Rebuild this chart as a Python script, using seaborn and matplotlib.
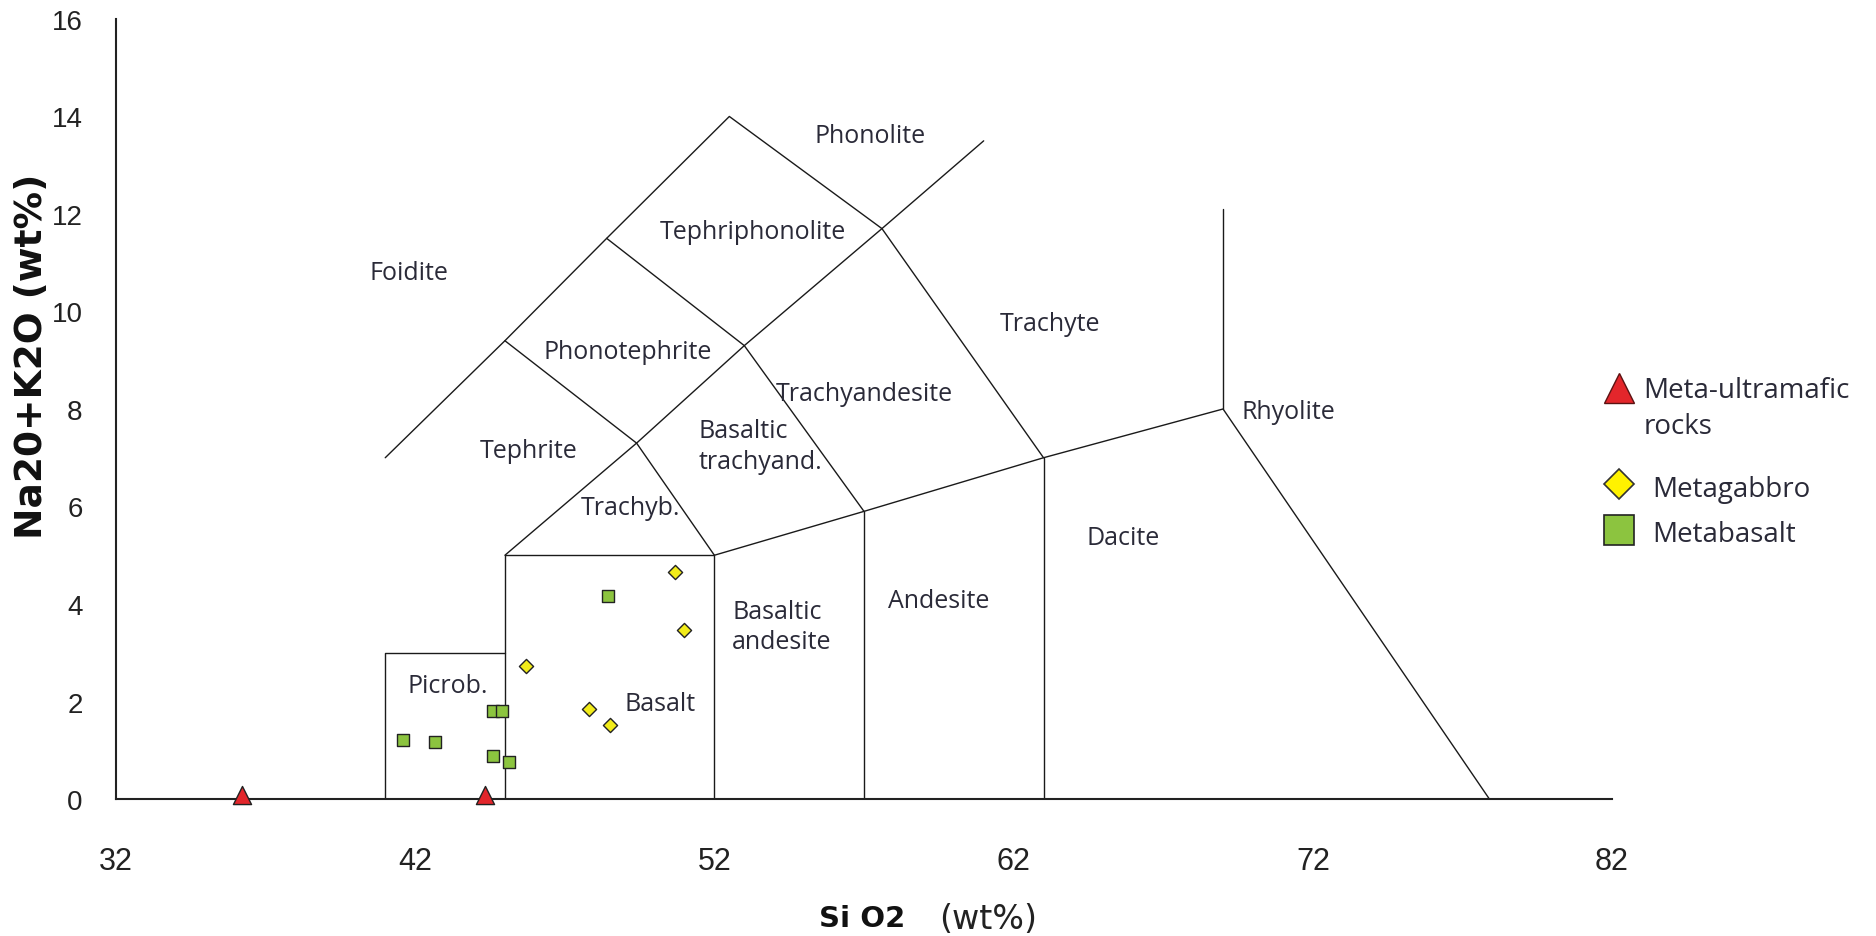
import matplotlib
matplotlib.use("Agg")
import matplotlib.pyplot as plt
from matplotlib.lines import Line2D
import pandas as pd
import seaborn as sns

# ==========================================================
# Data (SiO2 vs Na2O+K2O, wt%)
# ==========================================================

ULTRAMAFIC_SIO2 = [36.2, 44.35]
ULTRAMAFIC_ALK = [0.08, 0.08]

GABBRO_SIO2 = [50.7, 51.0, 45.7, 47.8, 48.5]
GABBRO_ALK = [4.66, 3.47, 2.73, 1.85, 1.52]

BASALT_SIO2 = [41.6, 42.65, 44.6, 44.9, 44.6, 45.15, 48.45]
BASALT_ALK = [1.22, 1.16, 1.81, 1.81, 0.89, 0.75, 4.17]

GROUPS = ["Meta-ultramafic\nrocks", "Metagabbro", "Metabasalt"]

# TAS field boundaries (Le Bas et al.)
TAS_LINES = [
    [(41, 0), (41, 3), (45, 3)],
    [(45, 0), (45, 5), (52, 5), (52, 0)],
    [(52, 5), (57, 5.9), (63, 7), (69, 8), (77.9, 0)],
    [(57, 0), (57, 5.9)],
    [(63, 0), (63, 7)],
    [(69, 8), (69, 12.1)],
    [(45, 5), (49.4, 7.3), (53, 9.3), (57.6, 11.7), (61, 13.5)],
    [(41, 7), (45, 9.4), (48.4, 11.5), (52.5, 14), (57.6, 11.7), (63, 7)],
    [(45, 9.4), (49.4, 7.3), (52, 5)],
    [(48.4, 11.5), (53, 9.3), (57, 5.9)],
]

FIELD_NAMES = ["Foidite", "Phonolite", "Tephriphonolite", "Phonotephrite",
               "Trachyte", "Trachyandesite", "Tephrite", "Trachyb.",
               "Dacite", "Andesite", "Picrob.", "Basalt"]
FIELD_X = [41.8, 57.2, 53.3, 49.1, 63.2, 57.0, 45.8, 49.2, 65.65, 59.5, 43.1, 50.2]
FIELD_Y = [10.8, 13.6, 11.64, 9.18, 9.76, 8.31, 7.15, 5.98, 5.37, 4.07, 2.32, 1.95]

LEFT_NAMES = ["Basaltic\ntrachyand.", "Basaltic\nandesite", "Rhyolite"]
LEFT_X = [51.46, 52.6, 69.6]
LEFT_Y = [7.24, 3.54, 7.94]

X_TICKS = [32, 42, 52, 62, 72, 82]
Y_TICKS = list(range(0, 17, 2))

RED = "#e3262b"
YELLOW = "#f2ec1a"
GREEN = "#8cc43f"
TEXT = "#2a2a38"

# ==========================================================
# Figure
# ==========================================================

sns.set_style("white")
plt.rcParams["font.family"] = ["Liberation Sans", "DejaVu Sans"]

fig = plt.figure(figsize=(18.76, 9.37), dpi=100)
ax = fig.add_axes([0.0618, 0.1462, 0.7975, 0.8325])

for line in TAS_LINES:
    xs = [p[0] for p in line]
    ys = [p[1] for p in line]
    ax.plot(xs, ys, color="#1a1a1a", lw=1.0, zorder=2)

df = pd.concat([
    pd.DataFrame({"sio2": ULTRAMAFIC_SIO2, "alk": ULTRAMAFIC_ALK, "group": GROUPS[0]}),
    pd.DataFrame({"sio2": GABBRO_SIO2, "alk": GABBRO_ALK, "group": GROUPS[1]}),
    pd.DataFrame({"sio2": BASALT_SIO2, "alk": BASALT_ALK, "group": GROUPS[2]}),
])

sizes = {GROUPS[0]: 170, GROUPS[1]: 52, GROUPS[2]: 80}
markers = {GROUPS[0]: "^", GROUPS[1]: "D", GROUPS[2]: "s"}
colors = {GROUPS[0]: RED, GROUPS[1]: YELLOW, GROUPS[2]: GREEN}

for g in GROUPS:
    sub = df[df["group"] == g]
    sns.scatterplot(
        data=sub, x="sio2", y="alk",
        marker=markers[g], s=sizes[g], color=colors[g],
        edgecolor="#222222", linewidth=1.0,
        clip_on=False, zorder=5, ax=ax, legend=False
    )

for name, x, y in zip(FIELD_NAMES, FIELD_X, FIELD_Y):
    ax.text(x, y, name, ha="center", va="center", fontsize=18,
            family="Open Sans", color=TEXT)

for name, x, y in zip(LEFT_NAMES, LEFT_X, LEFT_Y):
    ax.text(x, y, name, ha="left", va="center", fontsize=18,
            family="Open Sans", color=TEXT, linespacing=1.3)

ax.set_xlim(32, 82)
ax.set_ylim(0, 16)
ax.set_xticks(X_TICKS)
ax.set_yticks(Y_TICKS)
ax.tick_params(axis="x", direction="out", length=9, width=1.2,
               pad=25, labelsize=22, colors="#222222")
ax.tick_params(axis="y", direction="out", length=9, width=1.2,
               pad=15, labelsize=20, colors="#222222")
ax.set_xlabel("")
ax.set_ylabel("")

for side in ["top", "right"]:
    ax.spines[side].set_visible(False)
for side in ["left", "bottom"]:
    ax.spines[side].set_linewidth(1.5)
    ax.spines[side].set_color("#222222")

# axis titles
fig.text(0.017, 0.62, "Na20+K2O (wt%)", rotation=90, ha="center", va="center",
         fontsize=27, fontweight="bold", family="DejaVu Sans", color="#111111")
fig.text(0.4366, 0.019, "Si O2", ha="left", va="center",
         fontsize=21, fontweight="bold", family="DejaVu Sans", color="#111111")
fig.text(0.5005, 0.019, "(wt%)", ha="left", va="center",
         fontsize=24, family="DejaVu Sans", color="#222222")

# legend (two blocks: the two-line entry sits apart from the others)
legend_font = {"family": "Open Sans", "size": 20}

top_handle = [Line2D([], [], ls="none", marker="^", ms=21, mfc=RED,
                     mec="#5a1212", mew=1.0)]
leg1 = fig.legend(
    top_handle, GROUPS[:1], loc="upper left", bbox_to_anchor=(0.848, 0.612),
    frameon=False, handlelength=1.0, handleheight=1.15, handletextpad=0.4,
    borderpad=0, prop=legend_font
)
for t in leg1.get_texts():
    t.set_color(TEXT)
    t.set_linespacing(1.35)
# keep the marker level with the first line of the label
for column in leg1._legend_handle_box.get_children():
    for row in column.get_children():
        row.align = "top"

other_handles = [
    Line2D([], [], ls="none", marker="D", ms=15, mfc="#fff200", mec="#333333", mew=1.2),
    Line2D([], [], ls="none", marker="s", ms=21, mfc=GREEN, mec="#222222", mew=1.2),
]
leg2 = fig.legend(
    other_handles, GROUPS[1:], loc="upper left", bbox_to_anchor=(0.848, 0.5095),
    frameon=False, handlelength=1.0, handleheight=1.15, handletextpad=0.7,
    labelspacing=0.55, borderpad=0, prop=legend_font
)
for t in leg2.get_texts():
    t.set_color(TEXT)

plt.savefig("out.png", dpi=100)
plt.close()
